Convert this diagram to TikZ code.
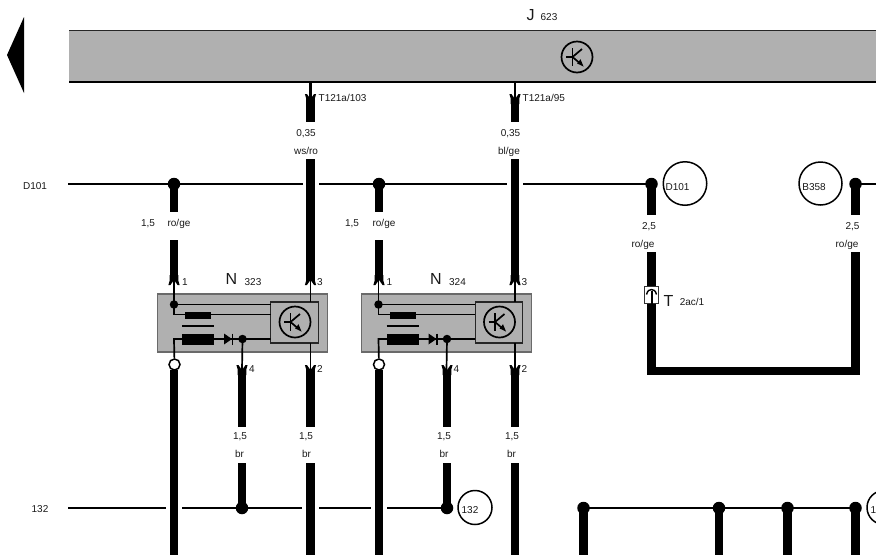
\documentclass[tikz,border=0pt]{standalone}
\usepackage{fontspec}
\setmainfont{Liberation Sans}
\usetikzlibrary{arrows.meta}
\definecolor{blockgray}{HTML}{B0B0B0}
\definecolor{edgegray}{HTML}{6A6A6A}
\tikzset{
  thickwire/.style={line width=8.9pt,black,line cap=butt},
  thinwire/.style={line width=2pt,black},
  fine/.style={line width=1.7pt,black},
  lbl/.style={font=\fontsize{10}{10}\selectfont,text=black!90,inner sep=0pt,anchor=center,text height=7.2pt,text depth=0pt},
  biglbl/.style={font=\fontsize{16}{16}\selectfont,text=black!90,inner sep=0pt,anchor=center},
  junction/.style={circle,fill=black,inner sep=0pt,minimum size=12.5pt},
  smalljunction/.style={circle,fill=black,inner sep=0pt,minimum size=8.5pt},
  opencircle/.style={circle,draw=black,line width=1.5pt,fill=white,inner sep=0pt,minimum size=11pt},
  refcircle/.style={circle,draw=black,line width=1.5pt,fill=white,inner sep=0pt},
  transistorcircle/.style={circle,draw=black,line width=1.7pt,inner sep=0pt,minimum size=31pt},
}
% wire end with a cut-in chevron: x, y of open end, s=+1 wire above, s=-1 wire below
\newcommand{\contactend}[3]{%
  \fill[black] ({#1-4.45},{#2-10*#3}) -- ({#1-4.45},{#2-4*#3}) -- ({#1-5.6},{#2}) -- ({#1-3.6},{#2})
    -- ({#1},{#2-5*#3}) -- ({#1+3.6},{#2}) -- ({#1+5.6},{#2}) -- ({#1+4.45},{#2-4*#3}) -- ({#1+4.45},{#2-10*#3}) -- cycle;}
% transistor glyph inside a named circle
\newcommand{\transistor}[3]{%
  \node[transistorcircle] (#1) at (#2,#3) {};
  \draw[fine] ({#2-4.5},{#3-9}) -- ({#2-4.5},{#3+9});
  \draw[fine] ({#2-11},{#3}) -- ({#2-4.5},{#3});
  \draw[fine] ({#2-4.5},{#3}) -- ({#2+5},{#3-8});
  \draw[fine] ({#2-4.5},{#3}) -- ({#2+2},{#3+5.5});
  \fill[black] ({#2+6.5},{#3+9.5}) -- ({#2+0.2},{#3+6.5}) -- ({#2+3.5},{#3+2.2}) -- cycle;}
% the N valve block: prefix, x shift, name suffix text
\newcommand{\Nblock}[3]{%
  \begin{scope}[xshift=#2pt]
    \node[draw=edgegray,line width=1.2pt,fill=blockgray,inner sep=0pt,minimum width=170pt,minimum height=58pt] (#1box) at (242.25,323) {};
    \node[draw=black!85,line width=1.3pt,fill=blockgray,inner sep=0pt,minimum width=47.5pt,minimum height=41pt] (#1inner) at (294.5,322.5) {};
    \coordinate (#1pina) at (174,279);
    \coordinate (#1pinc) at (310.5,279);
    \coordinate (#1pinb) at (310.5,370);
    \coordinate (#1pind) at (242,370);
    \coordinate (#1ra) at (174,314.5);
    \coordinate (#1rb) at (174,339);
    \coordinate (#1ia) at (270.7,304.5);
    \coordinate (#1ib) at (270.7,314.5);
    \coordinate (#1ic) at (270.7,339);
    \coordinate (#1it) at (310.5,302);
    \coordinate (#1ibm) at (310.5,343);
    \draw[fine] (#1pina) -- (#1ra) -- (#1ib);
    \node[smalljunction] (#1dot) at (174,304.5) {};
    \draw[fine] (#1dot.center) -- (#1ia);
    \draw[fine] (#1pinc) -- (#1it);
    \draw[fine] (#1ibm) -- (#1pinb);
    \node[opencircle] (#1oc) at (174.5,364.5) {};
    \draw[fine] (#1oc) -- (#1rb) -- (#1ic);
    \node[smalljunction] (#1dotb) at (242.5,339) {};
    \draw[fine] (#1dotb.center) -- (#1pind);
    \fill[black] (185,312) rectangle (211,318.7);
    \draw[line width=1.5pt,black] (182,326) -- (214,326);
    \fill[black] (182,334) rectangle (214,344.7);
    \fill[black] (224,333.5) -- (232,339) -- (224,344.5) -- cycle;
    \draw[line width=1.4pt,black] (232.3,333.5) -- (232.3,344.5);
    \transistor{#1trans}{295}{322}
    \node[biglbl] (#1n) at (231.5,279) {N};
    \node[lbl] (#1num) at (253,281.5) {#3};
    \node[lbl] (#1pa) at (185,281.5) {1};
    \node[lbl] (#1pc) at (320,281.5) {3};
    \node[lbl] (#1pd) at (252,368.5) {4};
    \node[lbl] (#1pb) at (320,368.5) {2};
  \end{scope}}
\begin{document}
\begin{tikzpicture}[x=1pt,y=-1pt]
\useasboundingbox (0,0) rectangle (876,555);
\clip (0,0) rectangle (876,555);
% left arrow
\fill[black] (7,55) -- (24,17) -- (24,93) -- cycle;
% J 623 bar
\fill[blockgray] (69,30) rectangle (876,82);
\draw[line width=1.6pt,black!85] (69,30.5) -- (876,30.5);
\draw[line width=1.3pt,black] (69,82) -- (876,82);
\transistor{jtrans}{577}{57}
\node[biglbl] (jn) at (530.5,15.5) {J};
\node[lbl] (jnum) at (549,17) {623};
% named points
\coordinate (dstart) at (68,184);
\coordinate (bstart) at (876,184);
\coordinate (gstart) at (68,508);
% D101 rail
\node[junction] (da) at (174,184) {};
\node[junction] (db) at (379,184) {};
\node[junction] (dc) at (651.5,184) {};
\node[junction] (dd) at (855.5,184) {};
\coordinate (g1a) at (303,184); \coordinate (g1b) at (319,184);
\coordinate (g2a) at (507,184); \coordinate (g2b) at (523,184);
\draw[thinwire] (dstart) -- (g1a) (g1b) -- (g2a) (g2b) -- (dc.center);
\draw[thinwire] (dd.center) -- (bstart);
% 132 rail
\node[junction] (ga) at (242,508) {};
\node[junction] (gb) at (447,508) {};
\node[junction] (gc) at (583.5,508) {};
\node[junction] (gd) at (719,508) {};
\node[junction] (ge) at (787.5,508) {};
\node[junction] (gf) at (855.5,508) {};
\coordinate (h1a) at (166,508); \coordinate (h1b) at (182,508);
\coordinate (h2a) at (302,508); \coordinate (h2b) at (319,508);
\coordinate (h3a) at (371,508); \coordinate (h3b) at (387,508);
\draw[thinwire] (gstart) -- (h1a) (h1b) -- (h2a) (h2b) -- (h3a) (h3b) -- (gb.center);
\draw[thinwire] (gc.center) -- (gf.center);
% Valve blocks
\Nblock{na}{0}{323}
\Nblock{nb}{204.5}{324}
% thin stubs from J
\coordinate (ja) at (310.5,82); \coordinate (jb) at (310.5,99);
\coordinate (jc) at (515,82); \coordinate (jd) at (515,99);
\draw[line width=2.4pt,black] (ja) -- (jb) (jc) -- (jd);
% thick wires top
\foreach \nm/\xx in {p/310.5,q/515}{
  \coordinate (\nm a) at (\xx,98);
  \coordinate (\nm b) at (\xx,122);
  \coordinate (\nm c) at (\xx,159);
  \coordinate (\nm d) at (\xx,278);
  \draw[thickwire] (\nm a) -- (\nm b);
  \draw[thickwire] (\nm c) -- (\nm d);
  \contactend{\xx}{94}{-1}
  \contactend{\xx}{285}{1}
}
\foreach \nm/\xx in {r/174,s/379}{
  \coordinate (\nm b) at (\xx,211.5);
  \coordinate (\nm c) at (\xx,240);
  \coordinate (\nm d) at (\xx,278);
  \contactend{\xx}{285}{1}
}
\draw[thickwire] (da.center) -- (rb);
\draw[thickwire] (rc) -- (rd);
\draw[thickwire] (db.center) -- (sb);
\draw[thickwire] (sc) -- (sd);
% 2,5 wires
\coordinate (ua) at (651.5,215);
\coordinate (ub) at (651.5,252);
\coordinate (uc) at (651.5,371);
\coordinate (va) at (855.5,215);
\coordinate (vb) at (855.5,252);
\coordinate (vc) at (855.5,371);
\draw[thickwire] (dc.center) -- (ua);
\draw[thickwire] (dd.center) -- (va);
\draw[thickwire,line join=miter] (ub) -- (uc) -- (vc) -- (vb);
% connector symbol
\node[draw=black!80,line width=1.1pt,fill=white,inner sep=0pt,minimum width=14pt,minimum height=17.5pt] (tc) at (651.5,295) {};
\coordinate (tca) at (651.5,303.5);
\coordinate (tcb) at (651.5,291);
\draw[line width=2pt,black] (tca) -- (tcb);
\draw[line width=1.4pt,black] (646.5,294.5) .. controls (647.5,290.5) and (649.5,289.5) .. (651.5,289.5) .. controls (653.5,289.5) and (655.5,290.5) .. (656.5,294.5);
\node[biglbl] (tl) at (668.5,300.5) {T};
\node[lbl] (tnum) at (692,302) {2ac/1};
% lower wires
\foreach \nm/\xx in {k/174,l/379}{
  \coordinate (\nm a) at (\xx,370);
  \coordinate (\nm b) at (\xx,555);
  \draw[thickwire] (\nm a) -- (\nm b);
}
\foreach \nm/\xx in {m/242,n/447}{
  \coordinate (\nm a) at (\xx,372);
  \coordinate (\nm b) at (\xx,427);
  \coordinate (\nm c) at (\xx,463);
  \draw[thickwire] (\nm a) -- (\nm b);
  \contactend{\xx}{365}{-1}
}
\foreach \nm/\xx in {o/310.5,t/515}{
  \coordinate (\nm a) at (\xx,372);
  \coordinate (\nm b) at (\xx,427);
  \coordinate (\nm c) at (\xx,463);
  \coordinate (\nm e) at (\xx,555);
  \draw[thickwire] (\nm a) -- (\nm b);
  \draw[thickwire] (\nm c) -- (\nm e);
  \contactend{\xx}{365}{-1}
}
\draw[thickwire] (mc) -- (ga.center);
\draw[thickwire] (nc) -- (gb.center);
\foreach \dd in {gc,gd,ge,gf}{
  \coordinate (\dd e) at (\dd |- 0,555);
  \draw[thickwire] (\dd.center) -- (\dd e);
}
% reference circles
\node[refcircle,minimum size=43.5pt] (cd) at (685,183.5) {};
\node[lbl] (cdt) at (677.5,186.5) {D101};
\node[refcircle,minimum size=43pt] (cb) at (820.5,183.5) {};
\node[lbl] (cbt) at (814,186.5) {B358};
\node[refcircle,minimum size=34pt] (cg) at (475,507.5) {};
\node[lbl] (cgt) at (470,510) {132};
\node[refcircle,minimum size=34pt] (ch) at (884,507.5) {};
\node[lbl] (cht) at (873.5,510) {1};
% labels
\node[lbl] (ld) at (35,186) {D101};
\node[lbl] (lg) at (40,508.5) {132};
\node[lbl,anchor=west] (t1) at (318.5,98) {T121a/103};
\node[lbl,anchor=west] (t2) at (522.5,98) {T121a/95};
\node[lbl] at (306,133) {0,35};
\node[lbl] at (306,151) {ws/ro};
\node[lbl] at (510.5,133) {0,35};
\node[lbl] at (509,151) {bl/ge};
\node[lbl] at (148,223) {1,5};
\node[lbl] at (179,223) {ro/ge};
\node[lbl] at (352,223) {1,5};
\node[lbl] at (384,223) {ro/ge};
\node[lbl] at (649,226) {2,5};
\node[lbl] at (643,244) {ro/ge};
\node[lbl] at (852.5,226) {2,5};
\node[lbl] at (847,244) {ro/ge};
\foreach \xx in {240,306,444,512}{
  \node[lbl] at (\xx,436) {1,5};
}
\foreach \xx in {239.5,306.5,444,511.5}{
  \node[lbl] at (\xx,454) {br};
}
\end{tikzpicture}
\end{document}
